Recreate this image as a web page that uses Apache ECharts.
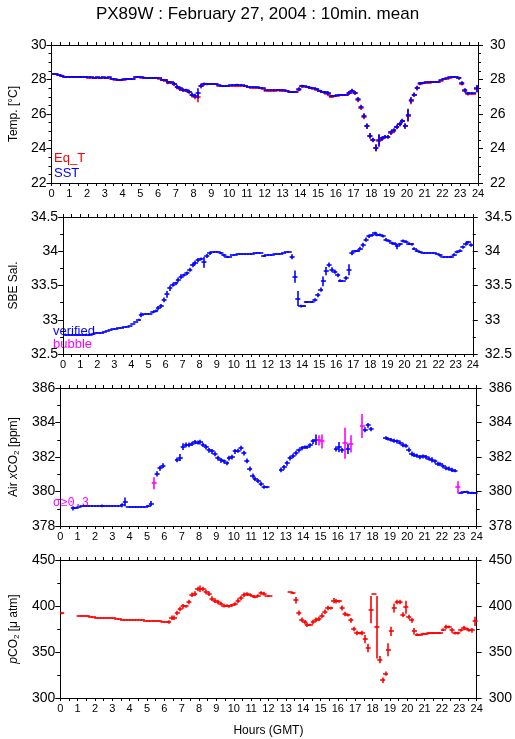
<!DOCTYPE html>
<html><head><meta charset="utf-8">
<script src="https://cdn.jsdelivr.net/npm/echarts@6/dist/echarts.min.js"></script>
<style>html,body{margin:0;padding:0;background:#fff}#c{width:515px;height:739px}</style>
</head><body><div id="c"></div>
<script>
// ---------- DATA (10-minute slots, 6 per hour, 144 per day) ----------
const hourTicks = [0,1,2,3,4,5,6,7,8,9,10,11,12,13,14,15,16,17,18,19,20,21,22,23,24];
const slotHours = 1/6;

// Panel 1: SST (blue) and Eq_T (red), deg C
const sst = [
 28.33,28.3,28.27,28.22,28.17,28.15,  28.15,28.15,28.15,28.15,28.15,28.15,
 28.13,28.13,28.1,28.12,28.1,28.12,   28.1,28.12,28.05,28.02,28.0,28.0,
 28.02,28.05,28.05,28.03,28.15,28.15, 28.12,28.1,28.1,28.1,28.1,28.1,
 28.06,27.98,27.96,27.83,27.83,27.75, 27.58,27.48,27.4,27.38,27.3,27.13,
 27.05,27.2,27.65,27.75,27.75,27.75,  27.75,27.75,27.7,27.65,27.65,27.65,
 27.68,27.68,27.7,27.68,27.68,27.65,  27.58,27.55,27.55,27.55,27.5,27.48,
 27.4,27.4,27.38,27.38,27.4,27.38,    27.38,27.35,27.3,27.3,27.3,27.45,
 27.62,27.62,27.58,27.53,27.5,27.45,  27.35,27.3,27.25,27.2,27.05,27.05,
 27.1,27.12,27.12,27.12,27.23,27.36,  27.23,26.86,26.42,25.9,25.3,24.75,
 24.5,24.05,24.48,24.58,24.68,24.68,  24.93,25.06,25.27,25.43,25.6,25.31,
 25.95,26.8,27.13,27.52,27.77,27.8,   27.83,27.83,27.85,27.88,27.88,27.95,
 28.04,28.08,28.15,28.15,28.15,28.08, 27.8,27.38,27.19,27.19,27.19,27.48
];
const sstErr = [
 .03,.03,.03,.05,.03,.03, .02,.02,.02,.05,.02,.02, .02,.02,.03,.02,.02,.02,
 .02,.02,.03,.02,.02,.02, .02,.02,.02,.02,.03,.02, .02,.02,.02,.02,.02,.02,
 .03,.05,.05,.08,.05,.1,  .12,.12,.1,.08,.1,.12,   .12,.3,.12,.08,.05,.03,
 .03,.03,.03,.03,.03,.03, .03,.03,.05,.03,.03,.03, .03,.03,.03,.03,.03,.03,
 .03,.03,.03,.03,.03,.03, .03,.03,.03,.03,.03,.1,  .08,.03,.05,.05,.03,.05,
 .05,.05,.08,.12,.05,.05, .03,.03,.03,.03,.1,.1,   .1,.12,.12,.15,.15,.15,
 .12,.2,.35,.12,.1,.1,    .12,.12,.12,.12,.12,.15, .35,.18,.12,.12,.08,.05,
 .03,.03,.03,.03,.03,.03, .03,.03,.03,.03,.03,.08, .1,.12,.08,.03,.03,.2
];
const eqT = [
 28.3,28.3,28.25,28.2,28.15,28.13,    28.13,28.13,28.13,28.13,28.13,28.13,
 28.07,28.07,28.08,28.1,28.1,28.1,    28.08,28.1,28.02,28.0,28.0,28.0,
 28.0,28.02,28.02,28.02,28.12,28.12,  28.08,28.08,28.08,28.08,28.08,28.08,
 28.03,27.95,27.93,27.8,27.8,27.72,   27.55,27.45,27.38,27.35,27.27,27.08,
 26.98,26.98,27.6,27.72,27.72,27.72,  27.72,27.72,27.62,27.6,27.6,27.63,
 27.65,27.65,27.65,27.6,27.6,27.62,   27.55,27.52,27.52,27.52,27.48,27.45,
 27.35,27.35,27.36,27.35,27.37,27.36, 27.35,27.33,27.28,27.28,27.28,27.42,
 27.6,27.58,27.55,27.5,27.45,27.42,   27.32,27.28,27.2,27.15,27.0,27.02,
 27.07,27.08,27.08,27.1,27.2,27.33,   27.2,26.8,26.35,25.85,25.28,24.72,
 24.48,24.02,24.45,24.55,24.66,24.66, 24.9,25.0,25.24,25.4,25.57,25.28,
 25.9,26.75,27.1,27.48,27.75,27.78,   27.8,27.8,27.83,27.83,27.85,27.9,
 28.02,28.04,28.1,28.12,28.12,28.06,  27.75,27.35,27.15,27.15,27.15,27.45
];

// Panel 2: SBE salinity (verified, blue)
const sal = [
 32.78,32.78,32.78,32.78,32.78,32.78, 32.78,32.78,32.78,32.78,32.79,32.8,
 32.8,32.8,32.82,32.84,32.85,32.86,   32.87,32.88,32.88,32.9,32.9,32.91,
 32.94,32.97,33.0,33.07,33.08,33.08,  33.09,33.11,33.13,33.17,33.2,33.29,
 33.37,33.46,33.51,33.53,33.58,33.63, 33.65,33.68,33.73,33.8,33.83,33.87,
 33.89,33.84,33.93,33.97,33.99,33.99, 33.99,33.97,33.94,33.92,33.92,33.94,
 33.95,33.96,33.96,33.96,33.96,33.96, 33.96,33.97,33.975,33.975,33.93,33.95,
 33.95,33.95,33.96,33.96,33.965,33.97, 33.99,33.99,33.92,33.63,33.31,33.2,
 33.2,33.26,33.26,33.26,33.29,33.36,  33.44,33.56,33.71,33.8,33.73,33.7,
 33.65,33.57,33.57,33.61,33.73,33.975, 34.0,34.01,34.04,34.09,34.17,34.22,
 34.23,34.26,34.24,34.24,34.22,34.17, 34.15,34.12,34.11,34.07,34.1,34.15,
 34.14,34.11,34.1,34.04,34.01,33.99,  33.975,33.975,33.975,33.975,33.975,33.96,
 33.94,33.92,33.92,33.92,33.92,33.95, 33.99,34.01,34.06,34.11,34.13,34.09
];
const salErr = [
 .005,.005,.005,.005,.005,.005, .005,.005,.005,.005,.005,.01,  .01,.005,.01,.01,.01,.01,
 .01,.01,.005,.01,.005,.01,     .01,.01,.015,.035,.01,.01,     .01,.015,.02,.03,.03,.035,
 .05,.04,.03,.025,.035,.035,    .02,.025,.03,.035,.035,.03,    .02,.08,.03,.025,.01,.01,
 .01,.015,.02,.015,.01,.01,     .005,.005,.005,.005,.005,.005, .005,.005,.005,.005,.015,.01,
 .005,.005,.005,.005,.005,.005, .01,.01,.035,.09,.11,.02,      .015,.015,.01,.015,.025,.03,
 .03,.07,.06,.035,.035,.03,     .03,.02,.01,.03,.08,.035,      .02,.02,.025,.035,.03,.025,
 .02,.025,.02,.02,.02,.025,     .02,.02,.02,.04,.02,.02,       .02,.02,.02,.02,.02,.015,
 .01,.01,.01,.01,.01,.01,       .02,.01,.01,.01,.015,.02,      .02,.02,.025,.03,.02,.025
];

// Panel 3: Air xCO2 (ppm); flagged slots (sigma >= 0.3) drawn magenta
const xco2 = [
 null,null,null,null,379.02,379.05,      379.1,379.15,379.15,379.15,379.15,379.15,
 379.15,379.15,379.17,379.16,379.15,379.15, 379.15,379.15,379.15,379.2,379.4,379.1,
 379.08,379.08,379.08,379.08,379.08,379.1,  379.15,379.3,380.48,381.02,381.35,381.5,
 null,null,null,null,381.83,381.97,      382.6,382.7,382.7,382.76,382.86,382.84,
 382.86,382.7,382.57,382.38,382.32,382.18, 381.93,381.8,381.74,381.64,381.93,381.99,
 382.32,382.36,382.51,382.22,381.78,381.31, 380.9,380.73,380.61,380.44,380.26,380.24,
 null,null,null,null,381.25,381.4,        381.64,381.93,382.07,382.22,382.38,382.51,
 382.57,382.57,382.67,382.9,383.0,382.96,  382.9,null,null,null,null,382.47,
 382.57,382.38,382.8,382.47,382.76,null,   null,null,383.8,383.58,383.83,383.62,
 null,null,null,null,383.1,383.05,         383.0,382.94,382.9,382.84,382.7,382.65,
 382.41,382.18,382.12,382.07,381.99,382.03, 381.99,381.91,381.83,381.74,381.6,381.58,
 381.45,381.35,381.33,381.25,381.21,380.24, 379.93,379.97,380.0,379.93,379.93,379.9
];
const xco2Err = [
 0,0,0,0,.12,.05,         .04,.03,.03,.03,.03,.03, .03,.03,.08,.03,.03,.03,
 .03,.03,.03,.12,.25,.04, .03,.03,.03,.03,.03,.04, .05,.15,.35,.15,.14,.14,
 0,0,0,0,.14,.2,          .2,.14,.14,.12,.12,.12,  .14,.12,.14,.14,.14,.14,
 .14,.14,.12,.12,.14,.14, .14,.12,.14,.14,.14,.14, .14,.12,.12,.12,.1,.05,
 0,0,0,0,.14,.14,         .14,.14,.14,.14,.12,.12, .1,.1,.12,.14,.3,.3,
 .4,0,0,0,0,.15,          .3,.14,.9,.3,.5,0,       0,0,.7,.14,.14,.12,
 0,0,0,0,.1,.1,           .1,.12,.12,.12,.14,.12,  .14,.14,.12,.12,.12,.12,
 .12,.12,.15,.12,.12,.12, .12,.12,.12,.12,.1,.35,  .05,.05,.05,.05,.05,.05
];
const xco2FlaggedSlots = [32, 89, 90, 98, 100, 104, 137];

// Panel 4: pCO2 (uatm), red
const pco2 = [
 392,null,null,null,null,null,          389.1,389.1,389.1,389.1,388.4,388.4,
 387.5,387,387,387,387,387,             387,386.2,386.2,385.1,385.1,385.1,
 385.1,385.1,384.4,384.4,384.4,383.3,   383.3,383.3,383.3,384,384,382.6,
 382.6,382.6,387.3,387.3,392.4,396.7,   399.6,399.6,404.3,412.3,413.4,418.5,
 418.8,418.5,415.2,413.4,408,405.8,     404.3,402.5,400.4,400.4,399.6,400.7,
 402.2,405.8,408.7,412.3,413,412.3,     410.5,409.8,411.2,414.1,413.4,411.2,
 411.2,null,null,null,null,null,        null,415.2,414.1,406.2,392.4,385.1,
 382.3,379.7,379.7,382.6,385.1,386.2,   389.5,393.8,397.8,397.8,405.8,405.1,
 405.1,397.8,391.3,390.2,384.4,375,     370.6,370.6,370.6,364.1,354.4,396,
 413,377,341.7,319.2,326.5,352.5,       372.5,397.8,404.3,404.3,390.6,398.6,
 388,384.4,372.5,368.8,368.8,369.9,     369.9,370.6,370.6,370.6,370.6,370.6,
 374.3,377.2,377.2,373.5,370.6,370.6,   373.5,376.1,375,373.5,373.5,383.3
];
const pco2Err = [
 1,0,0,0,0,0,           .3,.3,.3,.3,.3,.3,      .3,.3,.3,.3,.3,.3,
 .3,.3,.3,.3,.3,.3,     .3,.3,.3,.3,.3,.3,      .3,.3,.3,.3,.3,.5,
 .5,2,2.5,2.5,2.5,2.5,  2.5,1.5,2.5,2.5,2.5,2.5, 3.5,2.5,2.5,2.5,2.5,2.5,
 2.5,2,2,1.5,1.5,1.5,   2,2.5,2.5,2.5,2,1.5,    1.5,1.5,1.5,2,2,.5,
 .5,0,0,0,0,0,          0,.5,1,3.5,2.8,2.5,     2.5,2.5,1,2.5,2.5,2.5,
 2.5,2.5,2.5,1.5,2.8,2.5, 1.5,2.8,2.5,1.5,2.5,2.5, 2.5,1.5,2.5,4.5,4.7,14.8,
 .5,34,4,3,2.2,7,       5,5,2.5,2.5,2.5,7,      2.5,2.5,3.5,1.5,1,1,
 1,1,1,1,1,1,           1.5,2.5,1.5,2.5,1.5,1.5, 1.5,2.5,1.5,1.5,2.5,5
];

// ---------- CHART ----------
const FONT = '"Liberation Sans", Arial, Helvetica, sans-serif';
const BLUE = '#0000ff', RED = '#ff0000', MAG = '#ff00ff';
const ARM = 2.5; // minimum half-width of the cross arm, px

function toItems(vals, errs, keep) {
  const out = [];
  vals.forEach((v, i) => {
    if (v === null || v === undefined) return;
    if (keep && !keep(i)) return;
    out.push([i * slotHours, v, errs[i]]);
  });
  return out;
}
function crossRender(color) {
  return function (params, api) {
    const t = api.value(0), v = api.value(1), e = api.value(2);
    const a = api.coord([t, v]), b = api.coord([t + slotHours, v]);
    const ct = api.coord([t + slotHours / 2, v + e]), cb = api.coord([t + slotHours / 2, v - e]);
    const y = Math.round(a[1]);
    const cx = Math.round(ct[0]);
    const x1 = Math.min(a[0], ct[0] - ARM), x2 = Math.max(b[0], ct[0] + ARM);
    const children = [
      {type: 'line', shape: {x1, y1: y, x2, y2: y}, style: {stroke: color, lineWidth: 1.6}}
    ];
    if (cb[1] - ct[1] >= 1.5) {
      children.push({type: 'line', shape: {x1: cx, y1: ct[1], x2: cx, y2: cb[1]}, style: {stroke: color, lineWidth: 1.6}});
    }
    return {type: 'group', children};
  };
}
function crossSeries(gi, data, color) {
  return {type: 'custom', coordinateSystem: 'cartesian2d', xAxisIndex: gi * 2, yAxisIndex: gi * 2,
    clip: true, silent: true, data, renderItem: crossRender(color), animation: false};
}

const grids = [
  {left: 51, right: 37, top: 45, height: 138},
  {left: 51, right: 37, top: 217, height: 137},
  {left: 51, right: 37, top: 388, height: 138},
  {left: 51, right: 37, top: 560, height: 138}
];
const black = {color: '#000', width: 1};
function xPair(gi, last) {
  const base = {type: 'value', gridIndex: gi, min: hourTicks[0], max: hourTicks[hourTicks.length - 1], interval: 1,
    axisLine: {show: true, onZero: false, lineStyle: black},
    axisTick: {show: true, length: 3, lineStyle: black},
    minorTick: {show: true, splitNumber: 2, length: 3, lineStyle: black},
    splitLine: {show: false}, minorSplitLine: {show: false}};
  const bottom = Object.assign({}, base, {position: 'bottom',
    axisLabel: {show: true, fontSize: 11, margin: 5, color: '#000', fontFamily: FONT}});
  if (last) Object.assign(bottom, {name: 'Hours (GMT)', nameLocation: 'middle', nameGap: 27,
    nameTextStyle: {fontSize: 12, color: '#000', fontFamily: FONT}});
  const top = Object.assign({}, base, {position: 'top', axisLabel: {show: false}});
  return [bottom, top];
}
function yPair(gi, min, max, interval, minorSplit, name, nameGap, rich) {
  const base = {type: 'value', gridIndex: gi, min, max, interval,
    axisLine: {show: true, onZero: false, lineStyle: black},
    axisTick: {show: true, length: 5, lineStyle: black},
    minorTick: {show: true, splitNumber: minorSplit, length: 3, lineStyle: black},
    splitLine: {show: false}, minorSplitLine: {show: false}};
  const left = Object.assign({}, base, {position: 'left',
    axisLabel: {show: true, fontSize: 14, margin: 5, color: '#000', fontFamily: FONT},
    name, nameLocation: 'middle', nameGap, nameRotate: 90,
    nameTextStyle: {fontSize: 12, color: '#000', fontFamily: FONT, rich: rich || {}}});
  const right = Object.assign({}, base, {position: 'right',
    axisLabel: {show: true, fontSize: 14, margin: 12, color: '#000', fontFamily: FONT}});
  return [left, right];
}
const subRich = {
  s: {fontSize: 8, verticalAlign: 'bottom', padding: [6, 0, 0, 0], fontFamily: FONT, color: '#000'},
  it: {fontStyle: 'italic', fontSize: 12, fontFamily: FONT, color: '#000'}
};

const xAxis = [].concat(xPair(0), xPair(1), xPair(2), xPair(3, true));
const yAxis = [].concat(
  yPair(0, 22, 30, 2, 4, 'Temp. [°C]', 28),
  yPair(1, 32.5, 34.5, 0.5, 2, 'SBE Sal.', 40),
  yPair(2, 378, 386, 2, 2, 'Air {it|x}CO{s|2} [ppm]', 35, subRich),
  yPair(3, 300, 450, 50, 2, '{it|p}CO{s|2} [μ atm]', 35, subRich)
);

const flagged = new Set(xco2FlaggedSlots);
const series = [
  crossSeries(0, toItems(eqT, sstErr), RED),
  crossSeries(0, toItems(sst, sstErr), BLUE),
  crossSeries(1, toItems(sal, salErr), BLUE),
  crossSeries(2, toItems(xco2, xco2Err, i => !flagged.has(i)), BLUE),
  crossSeries(2, toItems(xco2, xco2Err, i => flagged.has(i)), MAG),
  crossSeries(3, toItems(pco2, pco2Err), RED)
];

const txt = (x, y, text, color, size, family) => ({type: 'text', left: x, top: y,
  style: {text, fill: color, font: (size || 12) + 'px ' + (family || FONT)}, silent: true});

const option = {
  animation: false,
  backgroundColor: '#fff',
  title: {text: 'PX89W : February 27, 2004 : 10min. mean', left: 'center', top: 1,
    textStyle: {fontSize: 17, fontWeight: 'normal', color: '#000', fontFamily: FONT}},
  grid: grids,
  xAxis, yAxis, series,
  graphic: [
    txt(54, 152, 'Eq_T', RED, 13),
    txt(54, 167, 'SST', BLUE, 13),
    txt(53, 325, 'verified', BLUE, 13),
    txt(53, 338, 'bubble', MAG, 13),
    txt(53, 497, 'σ≥0.3', MAG, 12, '"Liberation Mono", "DejaVu Sans Mono", monospace')
  ]
};
const chart = echarts.init(document.getElementById('c'), null, {renderer: 'canvas'});
chart.setOption(option);
</script>
</body></html>
